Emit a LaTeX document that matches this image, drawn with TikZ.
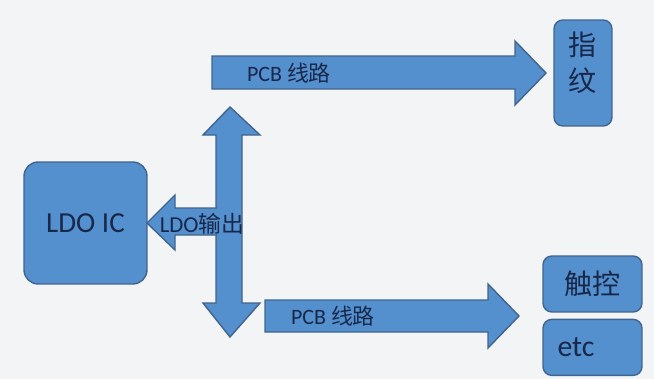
\documentclass[tikz,border=0pt]{standalone}
\usepackage{fontspec}
\setmainfont{Carlito}
\newfontfamily\cjk{Noto Sans CJK SC}
\usetikzlibrary{positioning}
\definecolor{boxblue}{HTML}{5590CE}
\definecolor{boxline}{HTML}{41648C}
\definecolor{txtblue}{HTML}{18284A}
\definecolor{bgcol}{HTML}{F3F4F6}
\tikzset{
    box/.style={draw=boxline, fill=boxblue, line width=0.8pt, text=txtblue, inner sep=0pt, align=center},
    blockarrow/.style={draw=boxline, fill=boxblue, line width=0.8pt, line join=miter},
    arrowlbl/.style={text=txtblue, inner sep=0pt, font=\fontsize{12.5}{14}\selectfont},
}
\begin{document}
\begin{tikzpicture}[x=0.02cm, y=-0.02cm]
        %background
        \fill[bgcol] (0,0) rectangle (654,379);
        \useasboundingbox (0,0) rectangle (654,379);
        %draw boxes
        \node[box, rounded corners=8pt, minimum width=2.46cm, minimum height=2.44cm,
              font=\fontsize{16.5}{18}\selectfont] (ldo) at (85.5,223) {LDO IC};
        \node[box, rounded corners=5pt, minimum width=1.16cm, minimum height=2.12cm,
              font=\fontsize{16}{20.5}\cjk, text depth=0.45cm] (finger) at (583,73) {指\\纹};
        \node[box, rounded corners=5pt, minimum width=1.98cm, minimum height=1.12cm,
              font=\fontsize{16}{18}\cjk] (touch) at (592.5,284) {触控};
        \node[box, rounded corners=5pt, minimum width=1.98cm, minimum height=1.12cm,
              font=\fontsize{17}{18}\selectfont, text width=1.4cm, align=left,
              below=0.12cm of touch] (etc) {etc};
        %draw vertical double arrow
        \draw[blockarrow] (230,107) -- (260,135) -- (242,135) -- (242,303) -- (260,303)
            -- (230,337) -- (203,303) -- (216,303) -- (216,135) -- (203,135) -- cycle;
        %draw arrow to ldo
        \fill[boxblue] (147,223) -- (175,195) -- (175,208) -- (217.5,208) -- (217.5,235)
            -- (175,235) -- (175,250) -- cycle;
        \draw[blockarrow, fill=none] (217,208) -- (175,208) -- (175,195) -- (147,223)
            -- (175,250) -- (175,235) -- (217,235);
        %draw arrows to outputs
        \draw[blockarrow] (212,56) -- (515,56) -- (515,41) -- (546,73) -- (515,105)
            -- (515,89) -- (212,89) -- cycle;
        \draw[blockarrow] (265,300) -- (488,300) -- (488,284) -- (519,316) -- (488,348)
            -- (488,332) -- (265,332) -- cycle;
        %labels
        \node[arrowlbl] (toplbl) at (289,73) {PCB {\cjk 线路}};
        \node[arrowlbl] (botlbl) at (333,316) {PCB {\cjk 线路}};
        \node[arrowlbl, font=\fontsize{13}{14}\selectfont] (outlbl) at (202,224) {LDO{\cjk 输出}};
    \end{tikzpicture}
\end{document}
